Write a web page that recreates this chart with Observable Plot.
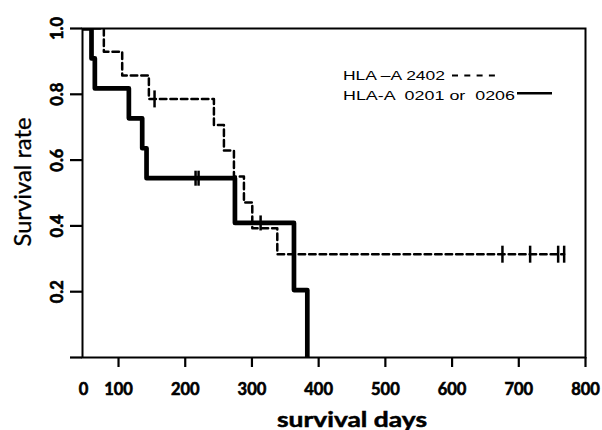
<!DOCTYPE html>
<html>
<head>
<meta charset="utf-8">
<script src="https://cdn.jsdelivr.net/npm/d3@7"></script>
<script src="https://cdn.jsdelivr.net/npm/@observablehq/plot@0.6"></script>
<style>
  html, body { margin: 0; padding: 0; background: white; }
  #chart { width: 602px; height: 430px; }
</style>
</head>
<body>
<div id="chart"></div>
<script>
// ---- data ----
const xDomain = [46, 800];               // left frame edge (labelled "0") to 800 days
const xTicks = [100, 200, 300, 400, 500, 600, 700, 800];
const yTicks = [0, 0.2, 0.4, 0.6, 0.8, 1.0];
const yTickLabels = [0.2, 0.4, 0.6, 0.8, 1.0];

// HLA-A 0201 or 0206 (solid)
const solidTimes = [0, 59.5, 64.5, 115.5, 135.5, 142, 274.5, 363, 383];
const solidSurv  = [1, 0.909, 0.818, 0.727, 0.636, 0.545, 0.409, 0.205, 0];
const solidCensorTimes = [215.5, 220, 313];
const solidCensorSurv  = [0.545, 0.545, 0.409];

// HLA-A 2402 (dashed)
const dashedTimes = [0, 78, 105.5, 145.5, 243, 258, 273, 288, 300.5, 338, 768];
const dashedSurv  = [1, 0.929, 0.857, 0.786, 0.707, 0.629, 0.550, 0.471, 0.393, 0.314, 0.314];
const dashedCensorTimes = [154, 675.5, 717, 759, 768];
const dashedCensorSurv  = [0.786, 0.314, 0.314, 0.314, 0.314];

const legendLabels = ["HLA \u2013A 2402", "HLA-A  0201 or  0206"];

// ---- build tables ----
const zip = (ts, ss) => ts.map((t, i) => ({t, s: ss[i]}));
const solidData = zip(solidTimes, solidSurv);
const dashedData = zip(dashedTimes, dashedSurv);
const solidCensor = zip(solidCensorTimes, solidCensorSurv);
const dashedCensor = zip(dashedCensorTimes, dashedCensorSurv);

const vbar = { draw(ctx, size) { const r = Math.sqrt(size / Math.PI); ctx.moveTo(0, -r); ctx.lineTo(0, r); } };
const tickFont = { fontSize: 16.5, fontWeight: "bold", fontFamily: "Lato" };

const svg = Plot.plot({
  width: 602, height: 430,
  marginLeft: 82, marginRight: 17, marginTop: 28, marginBottom: 73,
  style: { background: "white", color: "black", fontFamily: "Lato", overflow: "visible" },
  x: { domain: xDomain, label: null },
  y: { domain: [0, 1], label: null },
  marks: [
    Plot.line(dashedData, { x: "t", y: "s", curve: "step-after", stroke: "black", strokeWidth: 2.5, strokeDasharray: "6.5,4", clip: true }),
    Plot.line(solidData, { x: "t", y: "s", curve: "step-after", stroke: "black", strokeWidth: 4.7, clip: true }),
    Plot.dot(dashedCensor, { x: "t", y: "s", symbol: vbar, r: 8.5, stroke: "black", strokeWidth: 2.5, fill: "none" }),
    Plot.dot(solidCensor, { x: "t", y: "s", symbol: vbar, r: 7.5, stroke: "black", strokeWidth: 2.5, fill: "none" }),
    Plot.frame({ stroke: "black", strokeWidth: 2 }),
    Plot.axisX({ ticks: xTicks, tickSize: 10, tickPadding: 16, strokeWidth: 2.2, label: null, ...tickFont }),
    Plot.axisY({ ticks: yTicks, tickSize: 12, strokeWidth: 2.2, tickFormat: () => "", label: null }),
    Plot.text(["0"], { frameAnchor: "bottom-left", text: d => d, textAnchor: "middle", dx: 1, dy: 26, lineAnchor: "top", ...tickFont }),
    Plot.text(yTickLabels, { y: d => d, frameAnchor: "left", text: d => d.toFixed(1), textAnchor: "middle", rotate: -90, dx: -20, lineAnchor: "bottom", ...tickFont })
  ]
});
document.getElementById("chart").appendChild(svg);

// embolden the tick labels (the reference uses a very heavy face)
d3.select(svg).selectAll("text")
  .attr("font-weight", "bold")
  .attr("stroke", "black").attr("stroke-width", 0.6);

// ---- titles and legend ----
const s = d3.select(svg);
s.append("text")
  .attr("x", 352).attr("y", 427)
  .attr("text-anchor", "middle")
  .attr("font-family", "Lato").attr("font-weight", "bold").attr("font-size", 21)
  .attr("textLength", 150).attr("lengthAdjust", "spacingAndGlyphs")
  .attr("fill", "black").attr("stroke", "black").attr("stroke-width", 0.5)
  .text("survival days");
s.append("text")
  .attr("transform", "translate(31,182) rotate(-90)")
  .attr("text-anchor", "middle")
  .attr("font-family", "Lato").attr("font-size", 23)
  .attr("textLength", 129).attr("lengthAdjust", "spacingAndGlyphs")
  .attr("fill", "black").attr("stroke", "black").attr("stroke-width", 0.3)
  .text("Survival rate");

const lg = s.append("g").attr("font-family", "Liberation Sans").attr("font-size", 13)
  .attr("fill", "black").attr("text-anchor", "start");
lg.append("text").attr("x", 343).attr("y", 80).attr("textLength", 102).attr("lengthAdjust", "spacingAndGlyphs").text(legendLabels[0]);
lg.append("text").attr("x", 343).attr("y", 99.5).attr("textLength", 172).attr("lengthAdjust", "spacingAndGlyphs").text(legendLabels[1]);
lg.append("line").attr("x1", 452).attr("x2", 495).attr("y1", 75.5).attr("y2", 75.5)
  .attr("stroke", "black").attr("stroke-width", 2).attr("stroke-dasharray", "6,6.3");
lg.append("line").attr("x1", 517).attr("x2", 552).attr("y1", 93.3).attr("y2", 93.3)
  .attr("stroke", "black").attr("stroke-width", 2.5);
</script>
</body>
</html>
